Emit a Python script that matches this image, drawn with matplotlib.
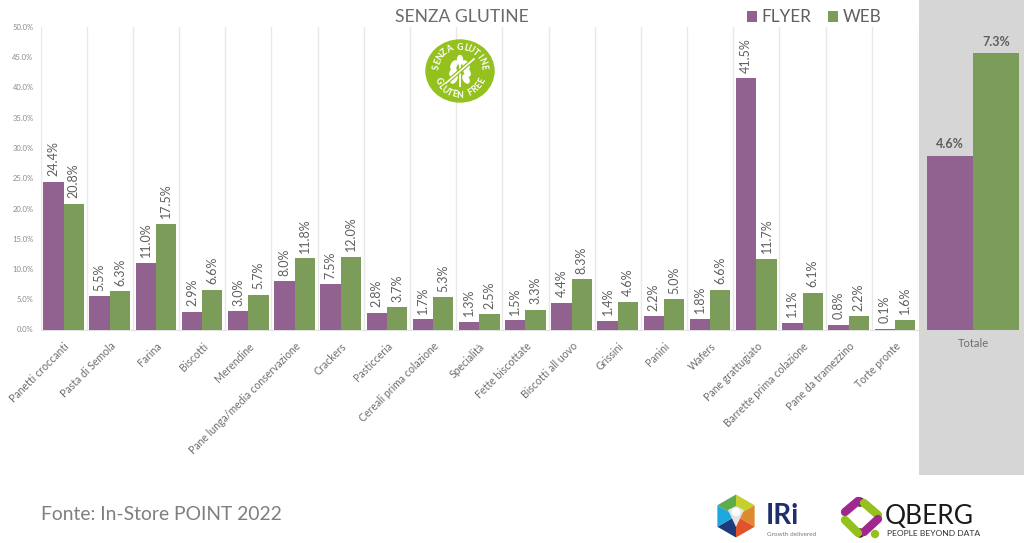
import numpy as np
import matplotlib
matplotlib.use('Agg')
import matplotlib.pyplot as plt
from matplotlib.patches import Ellipse, Polygon, Rectangle

categories = ['Panetti croccanti', 'Pasta di Semola', 'Farina', 'Biscotti', 'Merendine',
              'Pane lunga/media conservazione', 'Crackers', 'Pasticceria',
              'Cereali prima colazione', 'Specialità', 'Fette biscottate', 'Biscotti all uovo',
              'Grissini', 'Panini', 'Wafers', 'Pane grattugiato', 'Barrette prima colazione',
              'Pane da tramezzino', 'Torte pronte']
flyer = [24.4, 5.5, 11.0, 2.9, 3.0, 8.0, 7.5, 2.8, 1.7, 1.3, 1.5, 4.4, 1.4, 2.2, 1.8, 41.5, 1.1, 0.8, 0.1]
web = [20.8, 6.3, 17.5, 6.6, 5.7, 11.8, 12.0, 3.7, 5.3, 2.5, 3.3, 8.3, 4.6, 5.0, 6.6, 11.7, 6.1, 2.2, 1.6]
total_label = ['Totale']
total_flyer = [4.6]
total_web = [7.3]

PURPLE = '#91618f'
GREEN = '#7c9d5a'
TXT = '#6e6e6e'
W, H = 1024, 543
plt.rcParams['font.family'] = ['Lato', 'DejaVu Sans']


def px_axes(fig, x0, y0, x1, y1, **kw):
    # pixel box, y measured from the top
    return fig.add_axes([x0 / W, 1 - y1 / H, (x1 - x0) / W, (y1 - y0) / H], **kw)


def arc_text(ax, s, cx, cy, r, a0, a1, flip=False, **kw):
    for ch, a in zip(s, np.linspace(a0, a1, len(s))):
        t = np.radians(a)
        rot = a + 90 if flip else a - 90
        ax.text(cx + r * np.cos(t), cy - r * np.sin(t), ch, rotation=rot, ha='center', va='center', **kw)


fig = plt.figure(figsize=(W / 100, H / 100), dpi=100, facecolor='white')
fig.patches.append(Rectangle((919 / W, 1 - 475 / H), 105 / W, 475 / H, transform=fig.transFigure,
                             facecolor='#d6d6d6', edgecolor='none', zorder=-1))

# main chart
ax = px_axes(fig, 40.5, 27, 918, 329.5)
ax.patch.set_alpha(0)
x = np.arange(len(categories))
bw = 0.44
b1 = ax.bar(x - bw / 2, flyer, bw, color=PURPLE, zorder=3)
b2 = ax.bar(x + bw / 2, web, bw, color=GREEN, zorder=3)
ax.set_xlim(-0.5, len(categories) - 0.5)
ax.set_ylim(0, 50)
ax.set_yticks(np.arange(0, 51, 5))
ax.set_yticklabels(['%.1f%%' % v for v in np.arange(0, 51, 5)], fontsize=5.5, color='#8c8c8c')
ax.set_xticks(x)
ax.set_xticklabels(categories, rotation=45, ha='right', rotation_mode='anchor', fontsize=7.6, color=TXT)
ax.set_xticks(np.arange(-0.5, len(categories)), minor=True)
ax.grid(which='minor', axis='x', color='#e8e8e8', lw=1, zorder=0)
ax.tick_params(which='both', length=0)
ax.tick_params(axis='x', pad=8)
ax.tick_params(axis='y', pad=5)
for s in ['top', 'right', 'left']:
    ax.spines[s].set_visible(False)
ax.spines['bottom'].set_color('#e2e2e2')
for bars in (b1, b2):
    ax.bar_label(bars, fmt='%.1f%%', rotation=90, padding=4, fontsize=9, color='#5f5f5f', zorder=4)

# totale panel, own scale
ax2 = px_axes(fig, 919, 27, 1024, 329.5)
ax2.patch.set_alpha(0)
b3 = ax2.bar(-0.22, total_flyer, 0.44, color=PURPLE)
b4 = ax2.bar(0.22, total_web, 0.44, color=GREEN)
ax2.set_xlim(-0.517, 0.488)
ax2.set_ylim(0, 8)
ax2.set_yticks([])
ax2.set_xticks([0])
ax2.set_xticklabels(total_label, fontsize=8, color=TXT)
ax2.tick_params(length=0, pad=6)
for s in ax2.spines.values():
    s.set_visible(False)
for bars in (b3, b4):
    ax2.bar_label(bars, fmt='%.1f%%', padding=4, fontsize=9, fontweight='bold', color='#5f5f5f')

fig.text(462 / W, 1 - 17 / H, 'SENZA GLUTINE', ha='center', va='center', fontsize=12.6, color='#6b6b6b')
fig.legend([b1, b2], ['FLYER', 'WEB'], loc='center left', bbox_to_anchor=(747 / W, 1 - 17.5 / H), ncol=2,
           frameon=False, fontsize=12.3, labelcolor='#5f5f5f', handlelength=0.59, handleheight=0.59,
           handletextpad=0.25, columnspacing=1.0, borderpad=0, borderaxespad=0)
fig.text(41 / W, 1 - 515 / H, 'Fonte: In-Store POINT 2022', ha='left', va='center', fontsize=13.9, color='#7f7f7f')

# overlay in pixel coordinates for the logos
ov = fig.add_axes([0, 0, 1, 1], zorder=5)
ov.set_xlim(0, W)
ov.set_ylim(H, 0)
ov.axis('off')
ov.patch.set_alpha(0)

# senza glutine badge
lx, ly = 460, 71
lime = '#95c11f'
ov.add_patch(Ellipse((lx, ly), 68, 62, color=lime))
arc_text(ov, 'SENZA GLUTINE', lx, ly, 24, 170, 10, fontsize=6.3, fontweight='bold', color='white')
arc_text(ov, 'GLUTEN FREE', lx, ly, 24, 205, 335, flip=True, fontsize=6.3, fontweight='bold', color='white')
ov.plot([lx, lx], [ly - 8, ly + 15], color='white', lw=1.4)
for dx, dy, ang in [(0, -11, 0), (-6, -6, 30), (6, -6, -30), (-7, 1, 30), (7, 1, -30), (-6, 8, 30), (6, 8, -30)]:
    ov.add_patch(Ellipse((lx + dx, ly + dy), 5, 9, angle=ang, color='white'))
ov.plot([lx - 14, lx + 14], [ly + 12, ly - 12], color=lime, lw=3)
ov.plot([lx - 14, lx + 14], [ly + 12, ly - 12], color='white', lw=1.2)

# IRi logo
hx, hy, hr = 736, 516, 21.5
hex_cols = ['#c4d02e', '#dd8a2c', '#e2522b', '#1f3a7a', '#1da7e0', '#5cab4c']
for i, col in enumerate(hex_cols):
    a0, a1 = np.radians(90 - 60 * i), np.radians(30 - 60 * i)
    ov.add_patch(Polygon([(hx, hy), (hx + hr * np.cos(a0), hy - hr * np.sin(a0)),
                          (hx + hr * np.cos(a1), hy - hr * np.sin(a1))], color=col, lw=0))
ov.add_patch(Polygon([(hx - 8, hy - 6), (hx, hy - 10), (hx + 8, hy - 6), (hx, hy + 11)], color='#e4e4e4', lw=0))
ov.add_patch(Ellipse((hx, hy - 4), 7, 7, color='white'))
ov.text(766, 516, 'IRi', fontsize=20, fontweight='bold', color='#1f2f6b', va='center', ha='left')
ov.text(767, 534, 'Growth delivered', fontsize=4.6, color='#777777', va='center', ha='left')

# QBERG logo
seg = [((845, 512), (858, 501), '#a0278f'), ((864, 503), (878, 515), '#95c11f'),
       ((878, 519), (864, 532), '#a0278f'), ((858, 533), (845, 520), '#95c11f')]
for p, q, col in seg:
    ov.plot([p[0], q[0]], [p[1], q[1]], color=col, lw=6, solid_capstyle='round')
ov.add_patch(Ellipse((860, 502), 8, 8, color='#5c1a24'))
ov.add_patch(Ellipse((860, 533), 8, 8, color='#5c1a24'))
ov.add_patch(Ellipse((875, 534), 7, 7, color='#95c11f'))
ov.text(885, 517, 'QBERG', fontsize=19, color='#1a1a1a', va='center', ha='left')
ov.text(887, 534, 'PEOPLE BEYOND DATA', fontsize=6.1, color='#333333', va='center', ha='left')

fig.savefig('out.png', dpi=100)
